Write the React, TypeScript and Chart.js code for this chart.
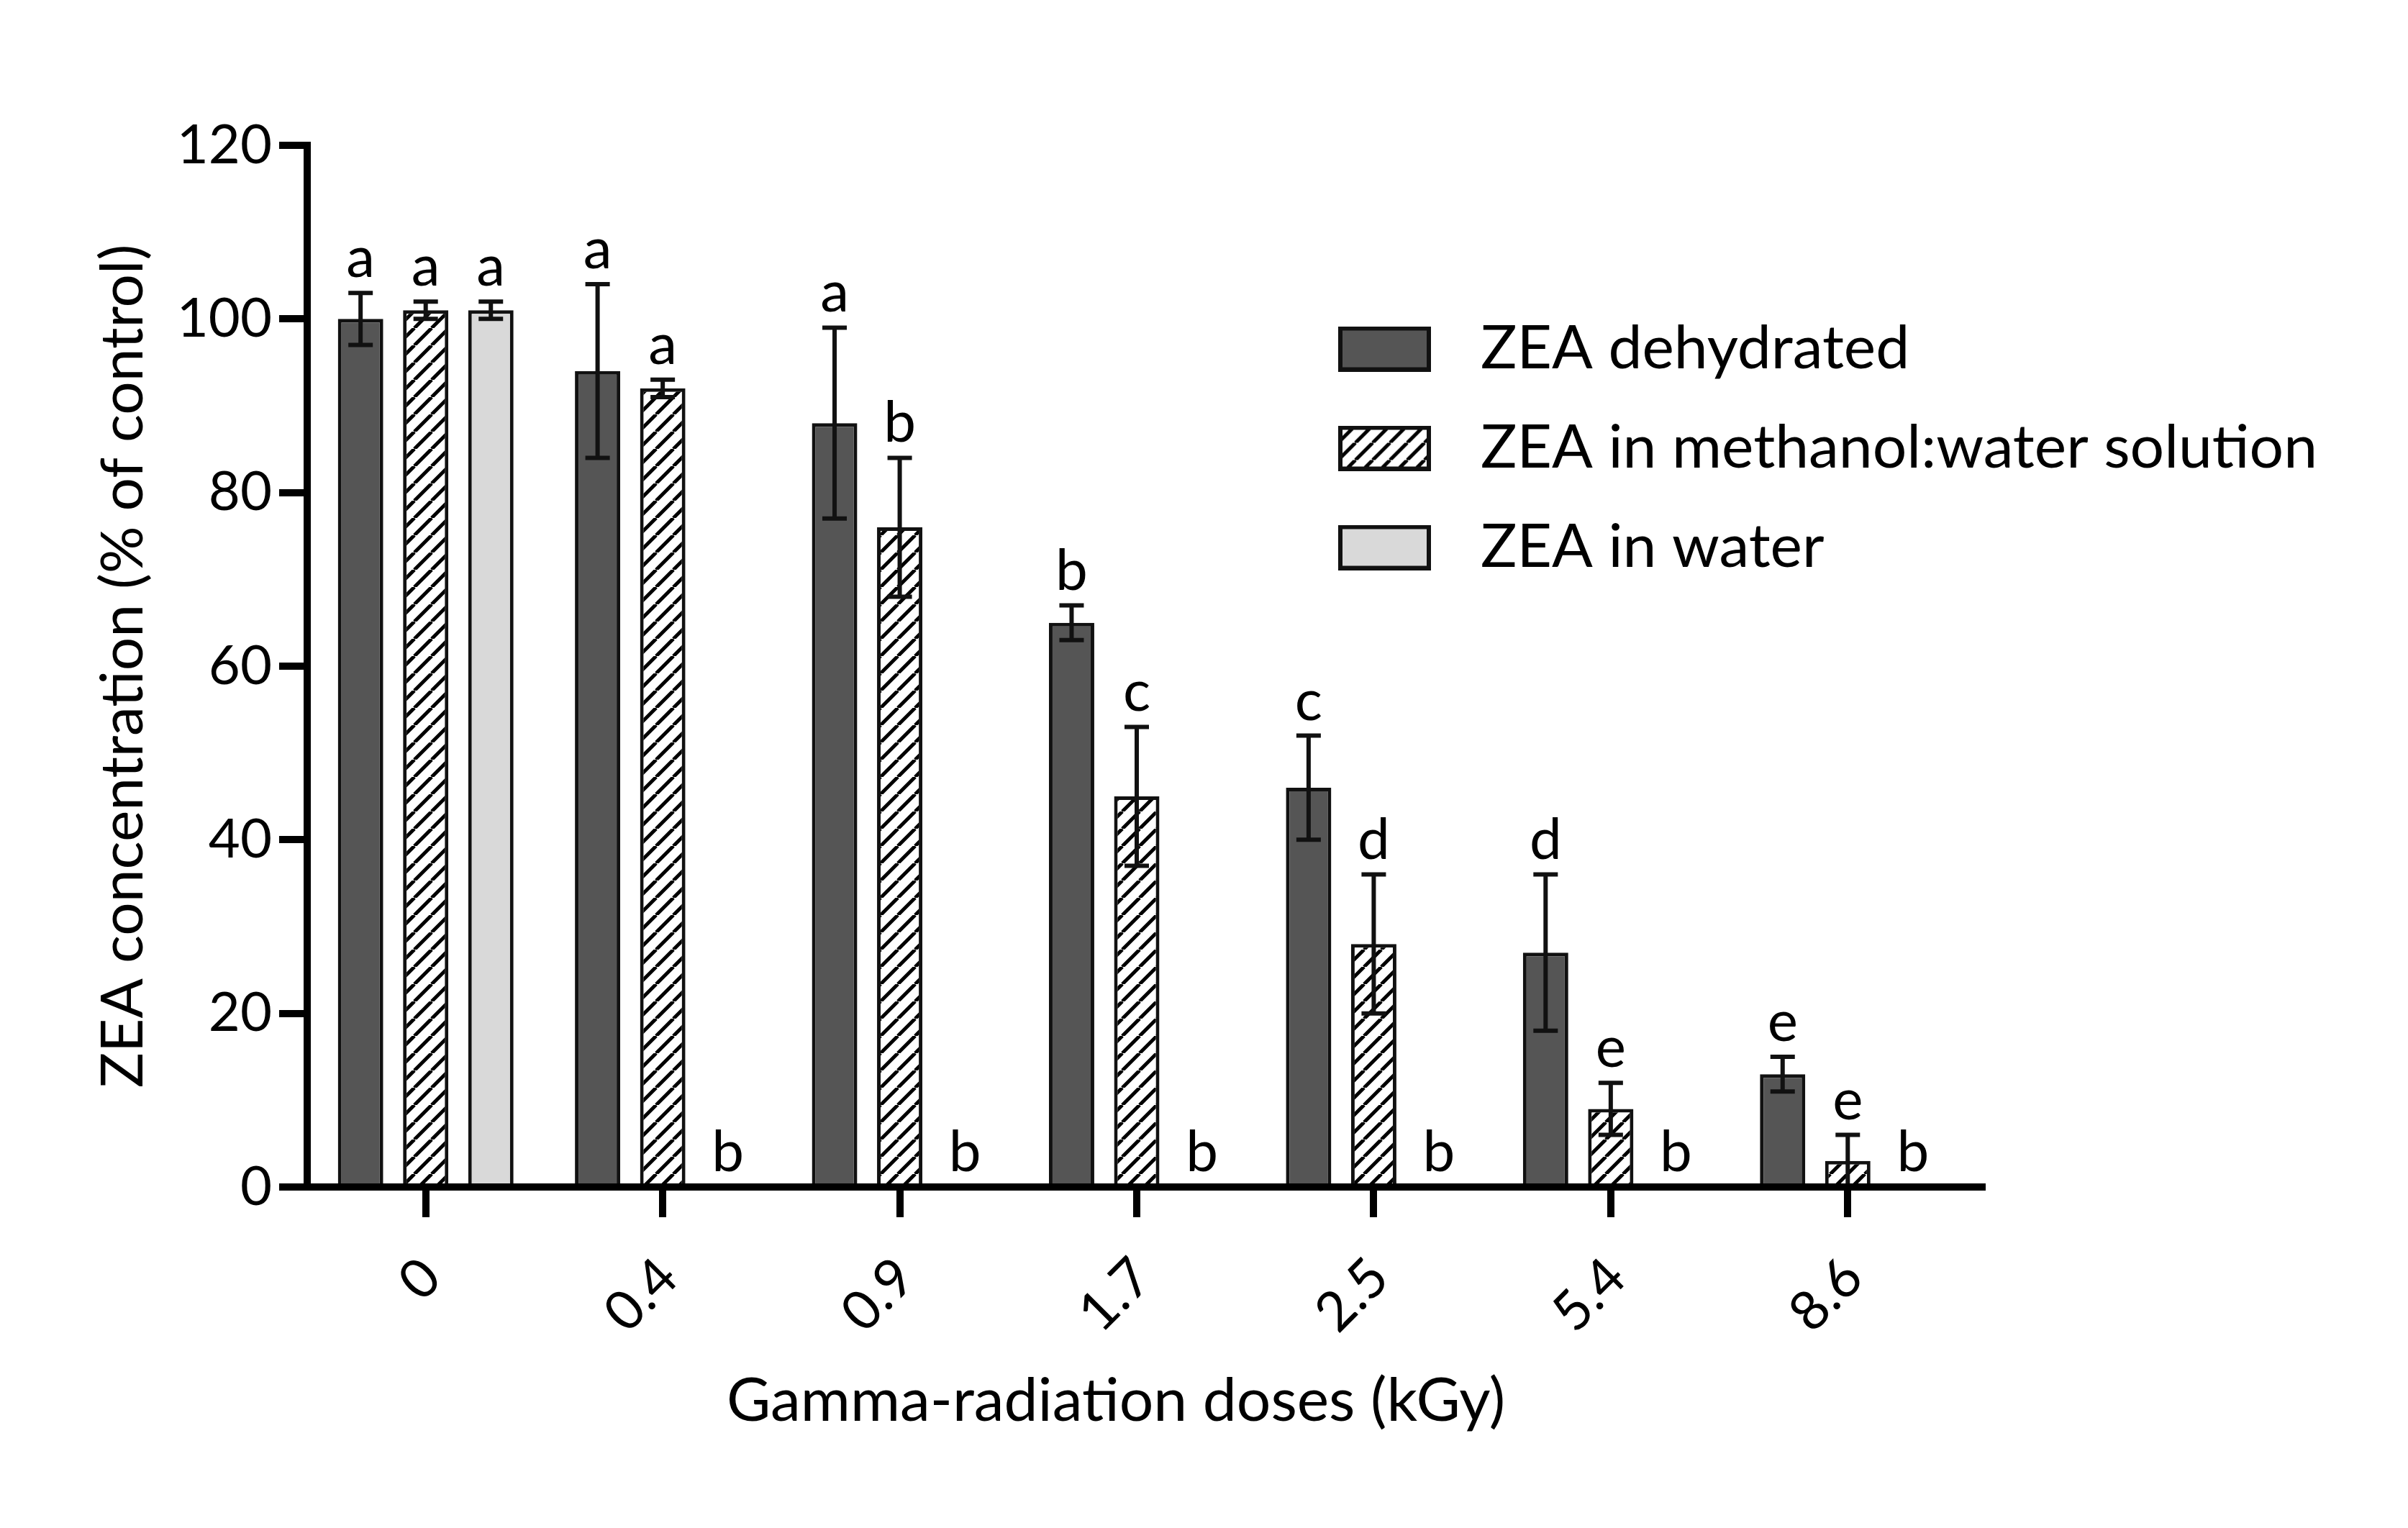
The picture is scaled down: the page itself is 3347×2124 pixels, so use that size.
import React, { useEffect, useRef } from "react";
import { Chart, registerables } from "chart.js";

Chart.register(...registerables);

// ---------- data ----------
const categories = ["0", "0.4", "0.9", "1.7", "2.5", "5.4", "8.6"];
const seriesNames = ["ZEA dehydrated", "ZEA in methanol:water solution", "ZEA in water"];
const dehydrated = [100, 94, 88, 65, 46, 27, 13];
const dehydratedErr = [3, 10, 11, 2, 6, 9, 2];
const methanol = [101, 92, 76, 45, 28, 9, 3];
const methanolErr = [1, 1, 8, 8, 8, 3, 3];
const water = [101, 0, 0, 0, 0, 0, 0];
const waterErr = [1, 0, 0, 0, 0, 0, 0];
const dehydratedLetters = ["a", "a", "a", "b", "c", "d", "e"];
const methanolLetters = ["a", "a", "b", "c", "d", "e", "e"];
const waterLetters = ["a", "b", "b", "b", "b", "b", "b"];
const yMin = 0;
const yMax = 120;
const yStep = 20;
const xTitle = "Gamma-radiation doses (kGy)";
const yTitle = "ZEA concentration (% of control)";

const allValues = [dehydrated, methanol, water];
const allErrors = [dehydratedErr, methanolErr, waterErr];
const allLetters = [dehydratedLetters, methanolLetters, waterLetters];

// ---------- styles ----------
const FONT = "Lato";
const TICK_FS = 76;
const TEXT_FS = 84;
const YTITLE_FS = 82;
const LETTER_FS = 80;
const DARK = "#555555";
const LIGHT = "#d9d9d9";
const EDGE = "#111111";

function makeHatchTile(): HTMLCanvasElement {
  const s = 24;
  const c = document.createElement("canvas");
  c.width = s;
  c.height = s;
  const g = c.getContext("2d")!;
  g.fillStyle = "#ffffff";
  g.fillRect(0, 0, s, s);
  g.strokeStyle = "#000000";
  g.lineWidth = 5;
  g.beginPath();
  for (let k = -1; k <= 1; k++) {
    g.moveTo(k * s, s);
    g.lineTo(k * s + s, 0);
  }
  g.stroke();
  return c;
}

function makeLegendBox(kind: "dark" | "hatch" | "light", tile: HTMLCanvasElement): HTMLCanvasElement {
  const w = 129, h = 63, b = 6;
  const c = document.createElement("canvas");
  c.width = w;
  c.height = h;
  const g = c.getContext("2d")!;
  g.fillStyle = EDGE;
  g.fillRect(0, 0, w, h);
  if (kind === "hatch") {
    g.fillStyle = g.createPattern(tile, "repeat")!;
  } else {
    g.fillStyle = kind === "dark" ? DARK : LIGHT;
  }
  g.fillRect(b, b, w - 2 * b, h - 2 * b);
  return c;
}

const errorBarsPlugin = {
  id: "errorBars",
  afterDatasetsDraw(chart: any) {
    const ctx = chart.ctx;
    const ys = chart.scales.y;
    ctx.save();
    ctx.strokeStyle = EDGE;
    ctx.lineWidth = 6;
    const cap = 17;
    allErrors.forEach((errs, di) => {
      const meta = chart.getDatasetMeta(di);
      meta.data.forEach((bar: any, j: number) => {
        const e = errs[j];
        if (!e) return;
        const v = allValues[di][j];
        const x = bar.x;
        const yt = ys.getPixelForValue(v + e);
        const lo = Math.max(0, v - e);
        const yb = ys.getPixelForValue(lo);
        ctx.beginPath();
        ctx.moveTo(x, yt);
        ctx.lineTo(x, yb);
        ctx.moveTo(x - cap, yt);
        ctx.lineTo(x + cap, yt);
        if (lo > 0) {
          ctx.moveTo(x - cap, yb);
          ctx.lineTo(x + cap, yb);
        }
        ctx.stroke();
      });
    });
    ctx.restore();
  },
};

const lettersPlugin = {
  id: "letters",
  afterDatasetsDraw(chart: any) {
    const ctx = chart.ctx;
    const ys = chart.scales.y;
    ctx.save();
    ctx.fillStyle = "#000";
    ctx.font = `${LETTER_FS}px ${FONT}`;
    ctx.textAlign = "center";
    ctx.textBaseline = "alphabetic";
    allLetters.forEach((letters, di) => {
      const meta = chart.getDatasetMeta(di);
      meta.data.forEach((bar: any, j: number) => {
        const top = allValues[di][j] + allErrors[di][j];
        ctx.fillText(letters[j], bar.x, ys.getPixelForValue(top) - 22);
      });
    });
    ctx.restore();
  },
};

const layoutPlugin = {
  id: "layoutTweaks",
  afterLayout(chart: any) {
    const lg = chart.legend;
    if (lg) {
      lg.left = 1779;
      lg.top = 389;
      lg.width = 1560;
      lg.height = 520;
      lg.right = lg.left + lg.width;
      lg.bottom = lg.top + lg.height;
    }
    const xs = chart.scales.x;
    if (xs) xs.right = 2755;
  },
};

export default function App() {
  const ref = useRef<HTMLCanvasElement | null>(null);

  useEffect(() => {
    const canvas = ref.current;
    if (!canvas) return;
    const ctx = canvas.getContext("2d")!;
    const tile = makeHatchTile();
    const hatch = ctx.createPattern(tile, "repeat")!;
    const legendImgs = [
      makeLegendBox("dark", tile),
      makeLegendBox("hatch", tile),
      makeLegendBox("light", tile),
    ];
    const tickFont = { family: FONT, size: TICK_FS, weight: "normal" as const };
    const textFont = { family: FONT, size: TEXT_FS, weight: "normal" as const };
    const yTitleFont = { family: FONT, size: YTITLE_FS, weight: "normal" as const };

    const chart = new Chart(canvas, {
      type: "bar",
      data: {
        labels: categories,
        datasets: [
          { label: seriesNames[0], data: dehydrated, backgroundColor: DARK, borderColor: EDGE, borderWidth: 5 },
          { label: seriesNames[1], data: methanol, backgroundColor: hatch as any, borderColor: EDGE, borderWidth: 5 },
          { label: seriesNames[2], data: water, backgroundColor: LIGHT, borderColor: EDGE, borderWidth: 5 },
        ],
      },
      options: {
        responsive: true,
        maintainAspectRatio: false,
        animation: false,
        events: [],
        layout: { padding: { left: 0, top: 202, right: 245, bottom: 0 } },
        datasets: { bar: { categoryPercentage: 0.8245, barPercentage: 0.696 } },
        scales: {
          x: {
            type: "category",
            offset: true,
            grid: {
              display: true,
              drawOnChartArea: false,
              drawTicks: true,
              tickLength: 42,
              lineWidth: 10,
              color: "#000",
              offset: false,
            },
            border: { display: true, color: "#000", width: 10, z: 1 },
            ticks: {
              font: tickFont,
              color: "#000",
              minRotation: 45,
              maxRotation: 45,
              padding: 39,
              autoSkip: false,
              labelOffset: 8,
            },
            afterFit: (s: any) => {
              s.height = 247.6;
            },
          },
          y: {
            min: yMin,
            max: yMax,
            ticks: { stepSize: yStep, font: tickFont, color: "#000", padding: 10 },
            grid: {
              display: true,
              drawOnChartArea: false,
              drawTicks: true,
              tickLength: 39,
              lineWidth: 10,
              color: "#000",
            },
            border: { display: true, color: "#000", width: 10, z: 1 },
            title: {
              display: true,
              text: yTitle,
              font: yTitleFont,
              color: "#000",
              padding: { top: 122.8, bottom: 0 },
            },
            afterFit: (s: any) => {
              s.width = 427;
            },
          },
        },
        plugins: {
          legend: {
            display: true,
            position: "right",
            align: "start",
            maxWidth: 369,
            labels: {
              usePointStyle: true,
              pointStyleWidth: 183,
              padding: 54,
              font: textFont,
              color: "#000",
              generateLabels: () =>
                seriesNames.map((name, i) => ({
                  text: name,
                  pointStyle: legendImgs[i] as any,
                  fillStyle: "rgba(0,0,0,0)",
                  strokeStyle: "rgba(0,0,0,0)",
                  lineWidth: 0,
                  hidden: false,
                  datasetIndex: i,
                  fontColor: "#000",
                })),
            },
          },
          title: {
            display: true,
            position: "bottom",
            text: xTitle,
            font: textFont,
            color: "#000",
            padding: { top: 0, bottom: 125.6 },
          },
          tooltip: { enabled: false },
        },
      },
      plugins: [errorBarsPlugin, lettersPlugin, layoutPlugin],
    });

    return () => chart.destroy();
  }, []);

  return (
    <div
      style={{
        position: "fixed",
        left: 0,
        top: 0,
        width: "100vw",
        height: "100vh",
        background: "#ffffff",
      }}
    >
      <canvas ref={ref} />
    </div>
  );
}
